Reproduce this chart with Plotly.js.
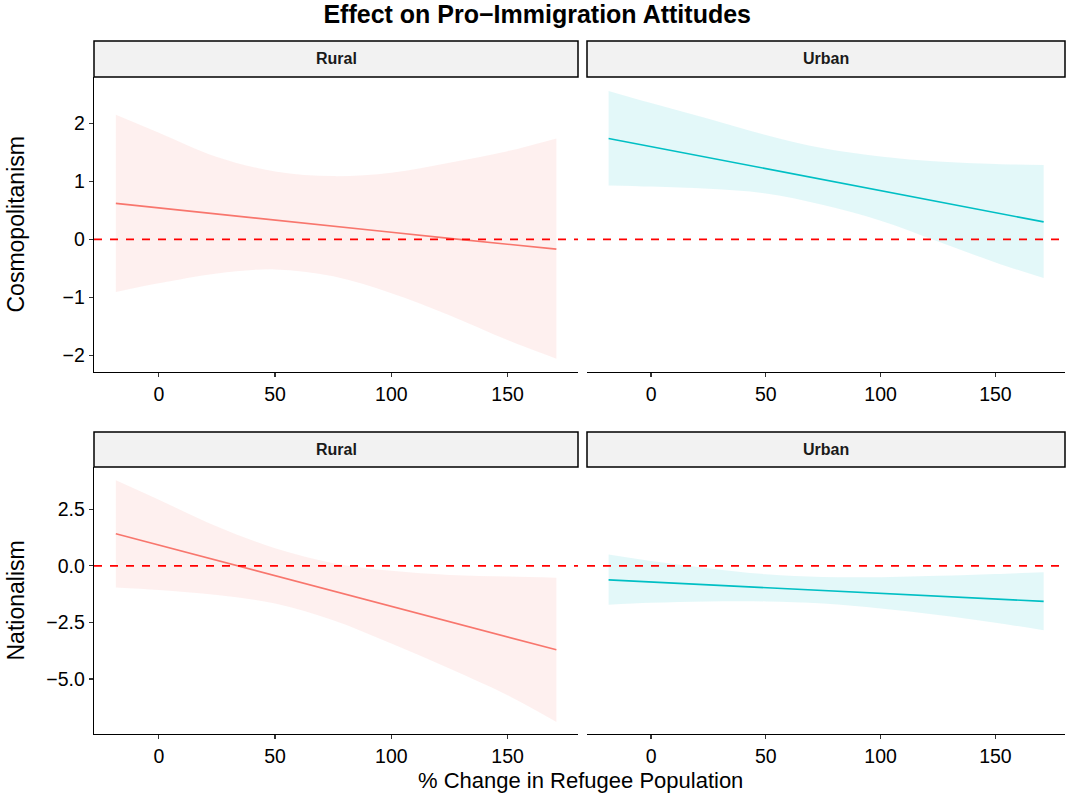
<!DOCTYPE html>
<html>
<head>
<meta charset="utf-8">
<script src="https://cdn.plot.ly/plotly-3.0.1.min.js"></script>
<style>html,body{margin:0;padding:0;background:#fff;}#chart{width:1068px;height:797px;}</style>
</head>
<body>
<div id="chart"></div>
<script>
// ---- data ----
const xGrid = [-18.5, 0, 25, 50, 75, 100, 125, 150, 171];

const cosmoRuralFit   = [0.62, 0.54, 0.435, 0.33, 0.225, 0.12, 0.015, -0.09, -0.17];
const cosmoRuralUpper = [2.15, 1.84, 1.42, 1.17, 1.09, 1.15, 1.32, 1.52, 1.74];
const cosmoRuralLower = [-0.91, -0.76, -0.59, -0.52, -0.64, -0.93, -1.31, -1.74, -2.06];

const cosmoUrbanFit   = [1.74, 1.60, 1.41, 1.22, 1.03, 0.84, 0.65, 0.46, 0.30];
const cosmoUrbanUpper = [2.56, 2.35, 2.08, 1.80, 1.57, 1.43, 1.34, 1.30, 1.28];
const cosmoUrbanLower = [0.93, 0.91, 0.87, 0.79, 0.59, 0.32, -0.04, -0.40, -0.67];

const natRuralFit   = [1.42, 0.92, 0.24, -0.44, -1.12, -1.79, -2.47, -3.15, -3.71];
const natRuralUpper = [3.78, 2.92, 1.74, 0.78, 0.12, -0.22, -0.40, -0.47, -0.52];
const natRuralLower = [-0.96, -1.07, -1.29, -1.66, -2.40, -3.43, -4.54, -5.72, -6.90];

const natUrbanFit   = [-0.62, -0.71, -0.84, -0.96, -1.09, -1.21, -1.34, -1.46, -1.57];
const natUrbanUpper = [0.50, 0.22, -0.10, -0.37, -0.49, -0.50, -0.44, -0.36, -0.28];
const natUrbanLower = [-1.72, -1.63, -1.57, -1.57, -1.66, -1.88, -2.17, -2.51, -2.85];

const facetLabels = ["Rural", "Urban"];
const rowTitles = ["Cosmopolitanism", "Nationalism"];
const xTicks = [0, 50, 100, 150];
const cosmoTicks = [-2, -1, 0, 1, 2];
const natTicks = [-5, -2.5, 0, 2.5];
const chartTitle = "Effect on Pro\u2212Immigration Attitudes";
const xTitle = "% Change in Refugee Population";

// ---- styling ----
const W = 1068, H = 797;
const FONT = "Liberation Sans, Arial, sans-serif";
const colRural = "#F8766D", colUrban = "#00BFC4";
const fillRural = "rgba(248,118,109,0.11)", fillUrban = "rgba(0,191,196,0.11)";

// panel pixel boxes
const colPx = [[94, 578], [587, 1065]];
const rowPx = [[77, 372], [467, 734]];
const stripPx = [[41, 77], [432, 467]];
const px2x = p => p / W;
const py2y = p => 1 - p / H;

const panels = [
  {row: 0, col: 0, fit: cosmoRuralFit, up: cosmoRuralUpper, lo: cosmoRuralLower, c: colRural, f: fillRural},
  {row: 0, col: 1, fit: cosmoUrbanFit, up: cosmoUrbanUpper, lo: cosmoUrbanLower, c: colUrban, f: fillUrban},
  {row: 1, col: 0, fit: natRuralFit, up: natRuralUpper, lo: natRuralLower, c: colRural, f: fillRural},
  {row: 1, col: 1, fit: natUrbanFit, up: natUrbanUpper, lo: natUrbanLower, c: colUrban, f: fillUrban}
];

const traces = [];
const layout = {
  width: W, height: H,
  margin: {l: 0, r: 0, t: 0, b: 0},
  paper_bgcolor: "#fff", plot_bgcolor: "rgba(0,0,0,0)",
  showlegend: false,
  font: {family: FONT, color: "#000"},
  title: {text: "<b>" + chartTitle + "</b>", font: {family: FONT, size: 25, color: "#000"},
          x: 0.503, xref: "container", xanchor: "center", y: 1 - 14 / H, yref: "container", yanchor: "middle"},
  shapes: [], annotations: []
};

panels.forEach((p, i) => {
  const n = i + 1;
  const xa = "x" + (n === 1 ? "" : n), ya = "y" + (n === 1 ? "" : n);
  const xKey = "xaxis" + (n === 1 ? "" : n), yKey = "yaxis" + (n === 1 ? "" : n);
  traces.push({x: xGrid, y: p.lo, xaxis: xa, yaxis: ya, type: "scatter", mode: "lines",
               line: {width: 0, shape: "spline", color: p.f}, hoverinfo: "skip"});
  traces.push({x: xGrid, y: p.up, xaxis: xa, yaxis: ya, type: "scatter", mode: "lines",
               line: {width: 0, shape: "spline", color: p.f}, fill: "tonexty", fillcolor: p.f, hoverinfo: "skip"});
  traces.push({x: xGrid, y: p.fit, xaxis: xa, yaxis: ya, type: "scatter", mode: "lines",
               line: {width: 1.6, color: p.c}});
  const yr = p.row === 0 ? [-2.29, 2.80] : [-7.43, 4.37];
  layout[xKey] = {
    domain: [px2x(colPx[p.col][0]), px2x(colPx[p.col][1])],
    anchor: ya, range: [-27.9, 180.3], showgrid: false, zeroline: false,
    showline: true, linecolor: "#000", linewidth: 1.3,
    ticks: "outside", ticklen: 4, tickwidth: 1.2, tickcolor: "#333",
    tickvals: xTicks, tickfont: {family: FONT, size: 19.5, color: "#000"}, fixedrange: true
  };
  layout[yKey] = {
    domain: [py2y(rowPx[p.row][1]), py2y(rowPx[p.row][0])],
    anchor: xa, range: yr, showgrid: false, zeroline: false,
    showline: p.col === 0, linecolor: "#000", linewidth: 1.3,
    ticks: p.col === 0 ? "outside" : "", ticklen: 4, tickwidth: 1.2, tickcolor: "#333",
    showticklabels: p.col === 0,
    tickvals: p.row === 0 ? cosmoTicks : natTicks,
    tickformat: p.row === 0 ? "d" : ".1f",
    tickfont: {family: FONT, size: 19.5, color: "#000"}, fixedrange: true
  };
  // zero reference line
  layout.shapes.push({type: "line", xref: xa + " domain", yref: ya, x0: 0, x1: 1, y0: 0, y1: 0,
                      line: {color: "#FF0000", width: 1.8, dash: "8px,8px"}, layer: "above"});
  // strip
  layout.shapes.push({type: "rect", xref: "paper", yref: "paper",
                      x0: px2x(colPx[p.col][0]), x1: px2x(colPx[p.col][1]),
                      y0: py2y(stripPx[p.row][1]), y1: py2y(stripPx[p.row][0]),
                      fillcolor: "#F2F2F2", line: {color: "#000", width: 1.5}, layer: "above"});
  layout.annotations.push({xref: "paper", yref: "paper",
                           x: px2x((colPx[p.col][0] + colPx[p.col][1]) / 2),
                           y: py2y((stripPx[p.row][0] + stripPx[p.row][1]) / 2),
                           text: "<b>" + facetLabels[p.col] + "</b>", showarrow: false,
                           xanchor: "center", yanchor: "middle",
                           font: {family: FONT, size: 16, color: "#1A1A1A"}});
});

rowTitles.forEach((t, r) => {
  layout.annotations.push({xref: "paper", yref: "paper", x: px2x(15), y: py2y((rowPx[r][0] + rowPx[r][1]) / 2),
                           text: t, textangle: -90, showarrow: false, xanchor: "center", yanchor: "middle",
                           font: {family: FONT, size: 23, color: "#000"}});
});
layout.annotations.push({xref: "paper", yref: "paper", x: px2x(580), y: py2y(780),
                         text: xTitle, showarrow: false, xanchor: "center", yanchor: "middle",
                         font: {family: FONT, size: 22, color: "#000"}});

Plotly.newPlot("chart", traces, layout, {displayModeBar: false, staticPlot: true});
</script>
</body>
</html>
